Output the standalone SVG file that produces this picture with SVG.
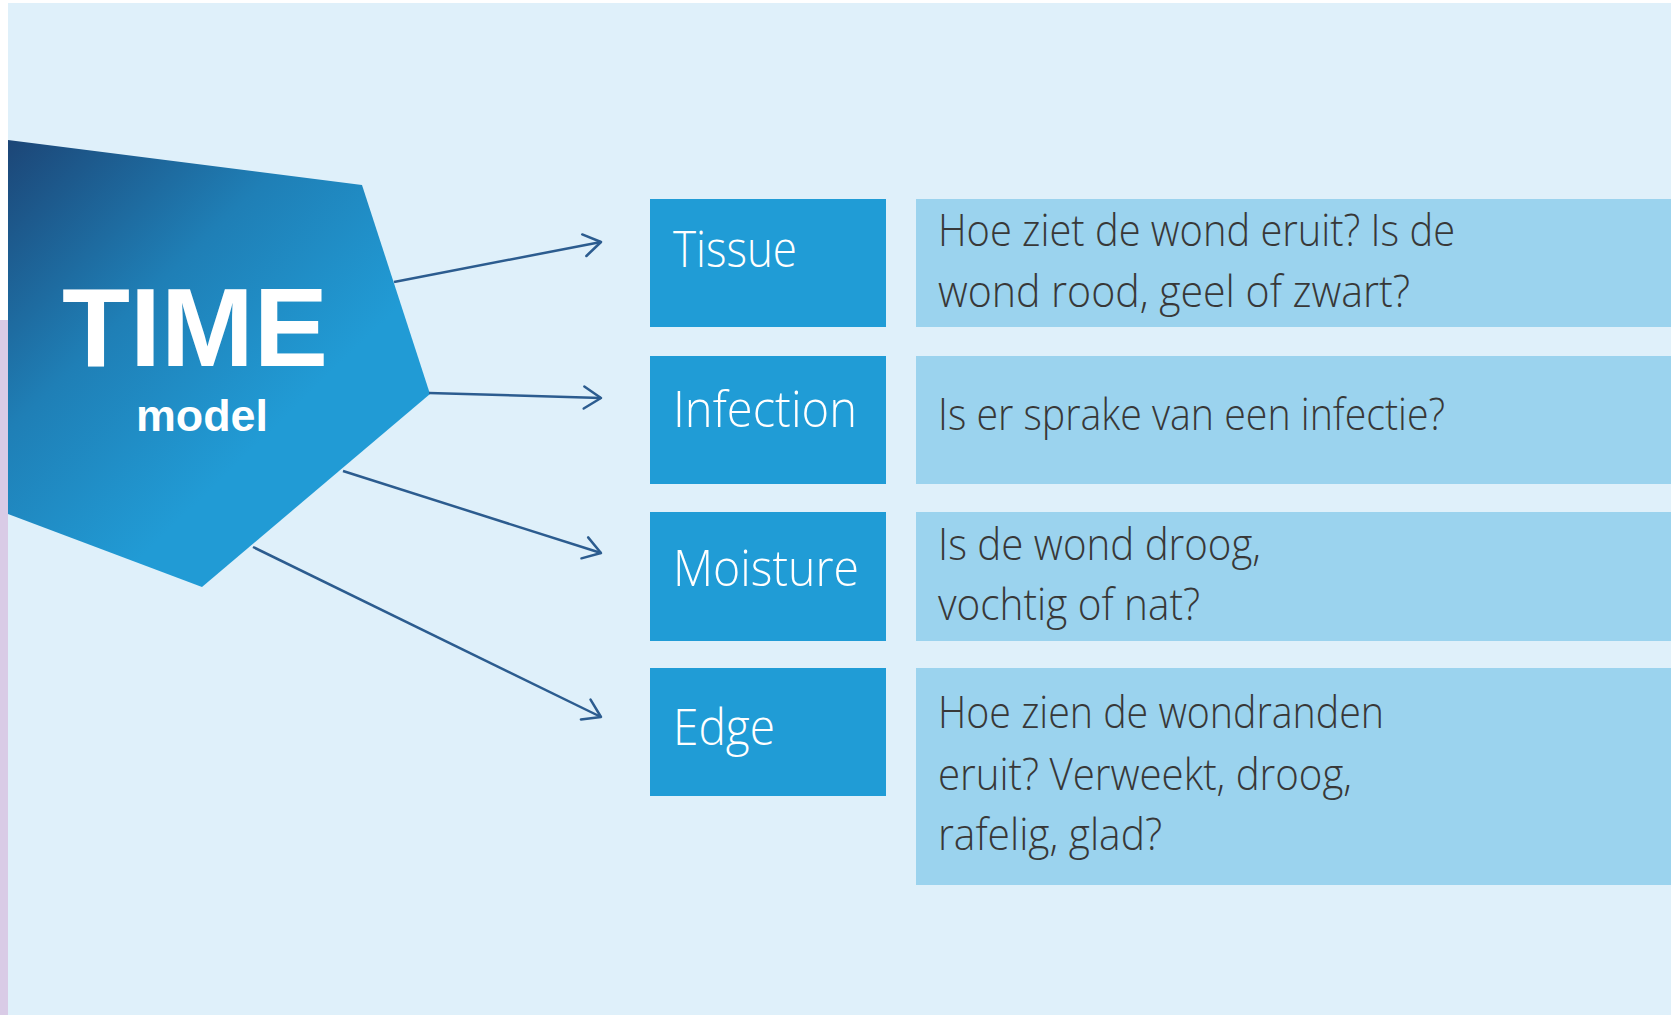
<svg xmlns="http://www.w3.org/2000/svg" width="1671" height="1015" viewBox="0 0 1671 1015">
<defs>
<linearGradient id="penta" gradientUnits="userSpaceOnUse" x1="10" y1="140" x2="330" y2="470">
<stop offset="0" stop-color="#1c4677"/>
<stop offset="0.45" stop-color="#1f7fb6"/>
<stop offset="0.85" stop-color="#219bd5"/>
</linearGradient>
<marker id="arr" markerUnits="userSpaceOnUse" viewBox="-20 -14 24 28" refX="0" refY="0" markerWidth="24" markerHeight="28" orient="auto" overflow="visible">
<path d="M -17 -11 L 0 0 L -17 11" fill="none" stroke="#2c5c8f" stroke-width="2.5" stroke-linecap="round" stroke-linejoin="round"/>
</marker>
<style>
.lbl{fill:#209cd6}
.dsc{fill:#9bd3ee}
.lt{font-family:"Open Sans","Liberation Sans",sans-serif;font-weight:300;font-size:50px;fill:#ffffff}
.dt{font-family:"Open Sans","Liberation Sans",sans-serif;font-weight:300;font-size:44px;fill:#383838}
.con{fill:none;stroke:#2c5c8f;stroke-width:2.5;marker-end:url(#arr)}
</style>
</defs>
<rect x="0" y="0" width="1671" height="1015" fill="#ffffff"/>
<rect x="8" y="3" width="1663" height="1012" fill="#dff0fa"/>
<rect x="0" y="320" width="8" height="695" fill="#d9cbe6"/>

<g id="time-model">
<polygon points="8,140 362,185 430,394 202,587 8,514" fill="url(#penta)"/>
<text x="195" y="366" text-anchor="middle" textLength="266" lengthAdjust="spacingAndGlyphs" font-family="'Liberation Sans',Arial,sans-serif" font-weight="700" font-size="112" fill="#ffffff">TIME</text>
<text x="202" y="431" text-anchor="middle" textLength="132" lengthAdjust="spacingAndGlyphs" font-family="'Liberation Sans',Arial,sans-serif" font-weight="700" font-size="45" fill="#ffffff">model</text>
</g>

<g id="connectors">
<line class="con" x1="394" y1="282" x2="601" y2="242"/>
<line class="con" x1="429" y1="393" x2="601" y2="398"/>
<line class="con" x1="343" y1="471" x2="601" y2="553"/>
<line class="con" x1="253" y1="547" x2="601" y2="717"/>
</g>

<g id="tissue">
<rect class="lbl" x="650" y="199" width="236" height="128"/>
<text class="lt" x="673" y="267" textLength="124" lengthAdjust="spacingAndGlyphs">Tissue</text>
</g>
<g id="infection">
<rect class="lbl" x="650" y="356" width="236" height="128"/>
<text class="lt" x="673" y="427" textLength="184" lengthAdjust="spacingAndGlyphs">Infection</text>
</g>
<g id="moisture">
<rect class="lbl" x="650" y="512" width="236" height="129"/>
<text class="lt" x="673" y="586" textLength="186" lengthAdjust="spacingAndGlyphs">Moisture</text>
</g>
<g id="edge">
<rect class="lbl" x="650" y="668" width="236" height="128"/>
<text class="lt" x="673" y="745" textLength="102" lengthAdjust="spacingAndGlyphs">Edge</text>
</g>

<g id="tissue-desc">
<rect class="dsc" x="916" y="199" width="755" height="128"/>
<text class="dt" x="938" y="246" textLength="517" lengthAdjust="spacingAndGlyphs">Hoe ziet de wond eruit? Is de</text>
<text class="dt" x="938" y="307" textLength="472" lengthAdjust="spacingAndGlyphs">wond rood, geel of zwart?</text>
</g>
<g id="infection-desc">
<rect class="dsc" x="916" y="356" width="755" height="128"/>
<text class="dt" x="938" y="430" textLength="507" lengthAdjust="spacingAndGlyphs">Is er sprake van een infectie?</text>
</g>
<g id="moisture-desc">
<rect class="dsc" x="916" y="512" width="755" height="129"/>
<text class="dt" x="938" y="560" textLength="323" lengthAdjust="spacingAndGlyphs">Is de wond droog,</text>
<text class="dt" x="938" y="620" textLength="262" lengthAdjust="spacingAndGlyphs">vochtig of nat?</text>
</g>
<g id="edge-desc">
<rect class="dsc" x="916" y="668" width="755" height="217"/>
<text class="dt" x="938" y="728" textLength="446" lengthAdjust="spacingAndGlyphs">Hoe zien de wondranden</text>
<text class="dt" x="938" y="790" textLength="414" lengthAdjust="spacingAndGlyphs">eruit? Verweekt, droog,</text>
<text class="dt" x="938" y="850" textLength="224" lengthAdjust="spacingAndGlyphs">rafelig, glad?</text>
</g>
</svg>
